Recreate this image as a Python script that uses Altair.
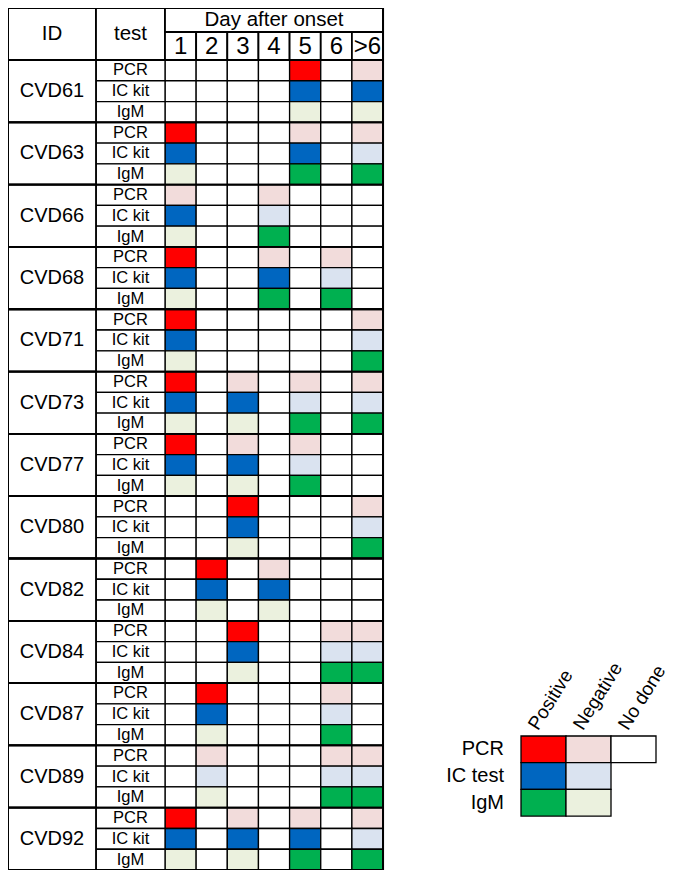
import altair as alt
import pandas as pd

# ---------------- data ----------------
ids = ["CVD61", "CVD63", "CVD66", "CVD68", "CVD71", "CVD73", "CVD77",
       "CVD80", "CVD82", "CVD84", "CVD87", "CVD89", "CVD92"]
tests = ["PCR", "IC kit", "IgM"]
days = ["1", "2", "3", "4", "5", "6", ">6"]

# P = positive, N = negative, . = not done ; one string per test (PCR, IC kit, IgM), one char per day
CVD61 = ["....P.N", "....P.P", "....N.N"]
CVD63 = ["P...N.N", "P...P.N", "N...P.P"]
CVD66 = ["N..N...", "P..N...", "N..P..."]
CVD68 = ["P..N.N.", "P..P.N.", "N..P.P."]
CVD71 = ["P.....N", "P.....N", "N.....P"]
CVD73 = ["P.N.N.N", "P.P.N.N", "N.N.P.P"]
CVD77 = ["P.N.N..", "P.P.N..", "N.N.P.."]
CVD80 = ["..P...N", "..P...N", "..N...P"]
CVD82 = [".P.N...", ".P.P...", ".N.N..."]
CVD84 = ["..P..NN", "..P..NN", "..N..PP"]
CVD87 = [".P...N.", ".P...N.", ".N...P."]
CVD89 = [".N...NN", ".N...NN", ".N...PP"]
CVD92 = ["P.N.N.N", "P.P.P.N", "N.N.P.P"]
results = [CVD61, CVD63, CVD66, CVD68, CVD71, CVD73, CVD77,
           CVD80, CVD82, CVD84, CVD87, CVD89, CVD92]

legend_rows = ["PCR", "IC test", "IgM"]
legend_tests = ["PCR", "IC kit", "IgM"]
legend_cols = ["Positive", "Negative", "No done"]

state_domain = ["PCR|P", "PCR|N", "IC kit|P", "IC kit|N", "IgM|P", "IgM|N", "none"]
state_colors = ["#FF0000", "#F2DCDB", "#0066C0", "#DAE3F0", "#00B050", "#EBF1DE", "#FFFFFF"]

# ---------------- layout (styles) ----------------
FONT = "Liberation Sans"
X_LEFT, ID_W, TEST_W, DAY_W = 8, 88, 69, 31.15
Y_TOP, HEAD1, HEAD2, ROW_H = 8, 24, 28, 20.77
ID_R = X_LEFT + ID_W
TEST_R = ID_R + TEST_W
DAYS_R = TEST_R + DAY_W * len(days)
BODY_TOP = Y_TOP + HEAD1 + HEAD2
BODY_BOT = BODY_TOP + ROW_H * 3 * len(ids)
LEG_X, LEG_W, LEG_Y, LEG_H, LEG_LABEL_R = 521, 45, 736, 26.7, 504

XS = alt.Scale(domain=[8, 672], nice=False, zero=False)
YS = alt.Scale(domain=[8, 870], nice=False, zero=False, reverse=True)

# ---------------- tables ----------------
cells, test_cells, id_cells, groups = [], [], [], []
for gi, (pid, res) in enumerate(zip(ids, results)):
    gy0 = BODY_TOP + gi * 3 * ROW_H
    id_cells.append(dict(x=X_LEFT, x2=ID_R, y=gy0, y2=gy0 + 3 * ROW_H,
                         cx=(X_LEFT + ID_R) / 2, cy=gy0 + 1.5 * ROW_H, label=pid))
    groups.append(dict(x=X_LEFT, x2=DAYS_R, y=gy0, y2=gy0 + 3 * ROW_H))
    for ti, (test, s) in enumerate(zip(tests, res)):
        y0 = gy0 + ti * ROW_H
        test_cells.append(dict(x=ID_R, x2=TEST_R, y=y0, y2=y0 + ROW_H,
                               cx=(ID_R + TEST_R) / 2, cy=y0 + ROW_H / 2, label=test))
        for di, (day, c) in enumerate(zip(days, s)):
            x0 = TEST_R + di * DAY_W
            cells.append(dict(x=x0, x2=x0 + DAY_W, y=y0, y2=y0 + ROW_H,
                              state="none" if c == "." else f"{test}|{c}"))

header = [
    dict(x=X_LEFT, x2=ID_R, y=Y_TOP, y2=BODY_TOP, cx=(X_LEFT + ID_R) / 2,
         cy=(Y_TOP + BODY_TOP) / 2, label="ID", size=20.5),
    dict(x=ID_R, x2=TEST_R, y=Y_TOP, y2=BODY_TOP, cx=(ID_R + TEST_R) / 2,
         cy=(Y_TOP + BODY_TOP) / 2, label="test", size=20.5),
    dict(x=TEST_R, x2=DAYS_R, y=Y_TOP, y2=Y_TOP + HEAD1, cx=(TEST_R + DAYS_R) / 2,
         cy=Y_TOP + HEAD1 / 2, label="Day after onset", size=20.5),
]
for di, day in enumerate(days):
    x0 = TEST_R + di * DAY_W
    header.append(dict(x=x0, x2=x0 + DAY_W, y=Y_TOP + HEAD1, y2=BODY_TOP,
                       cx=x0 + DAY_W / 2, cy=Y_TOP + HEAD1 + HEAD2 / 2 + 1, label=day, size=24))

leg_cells, leg_labels, leg_heads = [], [], []
for ri, (lab, test) in enumerate(zip(legend_rows, legend_tests)):
    y0 = LEG_Y + ri * LEG_H
    leg_labels.append(dict(cx=LEG_LABEL_R, cy=y0 + LEG_H / 2, label=lab))
    for ci, col in enumerate(legend_cols):
        if col == "No done" and ri > 0:
            continue
        x0 = LEG_X + ci * LEG_W
        state = "none" if col == "No done" else f"{test}|{'P' if col == 'Positive' else 'N'}"
        leg_cells.append(dict(x=x0, x2=x0 + LEG_W, y=y0, y2=y0 + LEG_H, state=state))
for ci, col in enumerate(legend_cols):
    leg_heads.append(dict(cx=LEG_X + ci * LEG_W + 12, cy=LEG_Y - 8, label=col))

df_cells = pd.DataFrame(cells + leg_cells)
df_tests = pd.DataFrame(test_cells)
df_ids = pd.DataFrame(id_cells)
df_groups = pd.DataFrame(groups)
df_header = pd.DataFrame(header)
df_leg_labels = pd.DataFrame(leg_labels)
df_leg_heads = pd.DataFrame(leg_heads)
df_outer = pd.DataFrame([dict(x=X_LEFT, x2=DAYS_R, y=Y_TOP, y2=BODY_BOT)])


def rects(df, **mark):
    return alt.Chart(df).mark_rect(**mark).encode(
        x=alt.X("x:Q", scale=XS, axis=None), x2="x2:Q",
        y=alt.Y("y:Q", scale=YS, axis=None), y2="y2:Q",
    )


def texts(df, **mark):
    return alt.Chart(df).mark_text(font=FONT, color="black", **mark).encode(
        x=alt.X("cx:Q", scale=XS, axis=None),
        y=alt.Y("cy:Q", scale=YS, axis=None),
        text="label:N",
    )


color_enc = alt.Color("state:N", scale=alt.Scale(domain=state_domain, range=state_colors), legend=None)

layers = [
    rects(df_cells, stroke="black", strokeWidth=1.3).encode(color=color_enc),
    rects(df_tests, fill="white", stroke="black", strokeWidth=1.3),
    rects(df_ids, fill="white", stroke="black", strokeWidth=1.8),
    rects(df_groups, fillOpacity=0, stroke="black", strokeWidth=1.8),
    rects(df_header, fill="white", stroke="black", strokeWidth=1.8),
    rects(df_outer, fillOpacity=0, stroke="black", strokeWidth=2),
    texts(df_header, align="center", baseline="middle").encode(
        size=alt.Size("size:Q", scale=None, legend=None)),
    texts(df_ids, align="center", baseline="middle", fontSize=20),
    texts(df_tests, align="center", baseline="middle", fontSize=16.5),
    texts(df_leg_labels, align="right", baseline="middle", fontSize=20),
    texts(df_leg_heads, align="left", baseline="middle", fontSize=19, angle=302),
]

chart = alt.layer(*layers).properties(
    width=664, height=862, padding=0,
    autosize=alt.AutoSizeParams(type="none"),
).configure_view(strokeWidth=0)

chart.save("out.html", embed_options={"renderer": "svg", "actions": False})
